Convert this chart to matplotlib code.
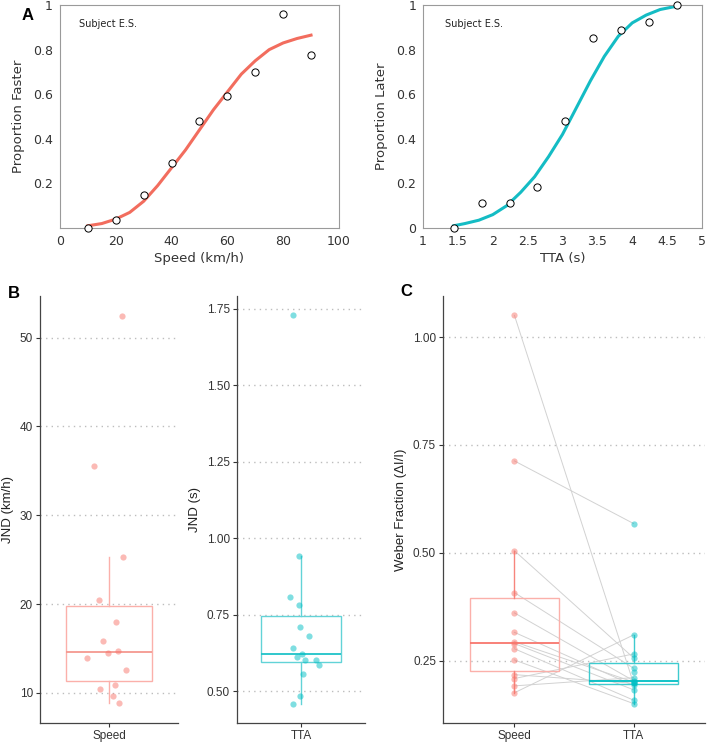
import matplotlib.pyplot as plt
from matplotlib.ticker import FormatStrFormatter

# --- Panel A data (subject E.S.) ---
speed_levels = [10, 20, 30, 40, 50, 60, 70, 80, 90]
prop_faster = [0.0, 0.036, 0.147, 0.293, 0.48, 0.59, 0.70, 0.961, 0.775]
speed_fit_x = [10, 15, 20, 25, 30, 35, 40, 45, 50, 55, 60, 65, 70, 75, 80, 85, 90]
speed_fit_y = [0.01, 0.02, 0.04, 0.07, 0.12, 0.19, 0.27, 0.35, 0.44, 0.53, 0.61, 0.69,
               0.75, 0.80, 0.83, 0.85, 0.865]

tta_levels = [1.44, 1.84, 2.24, 2.64, 3.04, 3.44, 3.84, 4.24, 4.64]
prop_later = [0.0, 0.11, 0.11, 0.184, 0.48, 0.85, 0.888, 0.924, 0.999]
tta_fit_x = [1.44, 1.6, 1.8, 2.0, 2.2, 2.4, 2.6, 2.8, 3.0, 3.2, 3.4, 3.6, 3.8, 4.0, 4.2, 4.4, 4.64]
tta_fit_y = [0.01, 0.02, 0.035, 0.06, 0.10, 0.16, 0.23, 0.32, 0.42, 0.54, 0.66, 0.77,
             0.86, 0.92, 0.955, 0.98, 0.995]

# --- Panel B data (JND per subject) ---
jnd_speed = [52.5, 35.6, 25.26, 20.4, 18.0, 15.8, 14.5, 14.7, 13.9, 12.6, 10.9, 10.45, 9.6, 8.8]
jnd_tta = [1.728, 0.943, 0.809, 0.781, 0.708, 0.679, 0.640, 0.620, 0.610, 0.603, 0.602,
           0.586, 0.556, 0.483, 0.459]

# --- Panel C data (Weber fractions, paired by subject) ---
weber_speed = [1.05, 0.713, 0.505, 0.408, 0.361, 0.316, 0.294, 0.290, 0.278, 0.252,
               0.218, 0.209, 0.192, 0.176]
weber_tta_paired = [0.198, 0.568, 0.257, 0.233, 0.204, 0.193, 0.201, 0.183, 0.159, 0.151,
                    0.198, 0.266, 0.211, 0.310]
weber_tta = [0.568, 0.310, 0.266, 0.257, 0.233, 0.223, 0.211, 0.204, 0.201, 0.198, 0.198,
             0.193, 0.183, 0.159, 0.151]

# jitter used for the points in panel B
jit_speed = [0.116, -0.133, 0.122, -0.09, 0.058, -0.049, -0.009, 0.075, -0.188, 0.148,
             0.052, -0.081, 0.035, 0.084]
jit_tta = [-0.078, -0.019, -0.1, -0.016, -0.009, 0.078, -0.072, 0.006, -0.034, 0.041,
           0.138, 0.172, 0.022, -0.009, -0.078]

red = '#F8766D'
teal = '#00BFC4'
light_red = '#FBB0AA'
light_teal = '#62D3D7'

fig = plt.figure(figsize=(7.08, 7.42), dpi=100)

# ---------------- Panel A ----------------
def style_a(ax):
    for s in ax.spines.values():
        s.set_color('#9a9a9a')
        s.set_linewidth(0.8)
    ax.tick_params(length=0, pad=5, labelsize=9, colors='#333333')
    ax.yaxis.set_major_formatter(FormatStrFormatter('%g'))
    ax.xaxis.set_major_formatter(FormatStrFormatter('%g'))

ax1 = fig.add_axes([0.0847, 0.6927, 0.394, 0.3005])
ax1.plot(speed_fit_x, speed_fit_y, color='#F26D5E', lw=2.2)
ax1.plot(speed_levels, prop_faster, 'o', mfc='white', mec='black', ms=5.2, mew=0.7,
         clip_on=False, zorder=3)
ax1.set_xlim(0, 100)
ax1.set_ylim(0, 1)
ax1.set_xticks([0, 20, 40, 60, 80, 100])
ax1.set_yticks([0.2, 0.4, 0.6, 0.8, 1])
ax1.set_xlabel('Speed (km/h)', fontsize=9.5, color='#333333', labelpad=3)
ax1.set_ylabel('Proportion Faster', fontsize=9.5, color='#333333', labelpad=6)
ax1.text(0.07, 0.9, 'Subject E.S.', transform=ax1.transAxes, fontsize=7, color='#222222')
style_a(ax1)

ax2 = fig.add_axes([0.5975, 0.6927, 0.394, 0.3005])
ax2.plot(tta_fit_x, tta_fit_y, color='#14BCC4', lw=2.2)
ax2.plot(tta_levels, prop_later, 'o', mfc='white', mec='black', ms=5.2, mew=0.7,
         clip_on=False, zorder=3)
ax2.set_xlim(1, 5)
ax2.set_ylim(0, 1)
ax2.set_xticks([1, 1.5, 2, 2.5, 3, 3.5, 4, 4.5, 5])
ax2.set_yticks([0, 0.2, 0.4, 0.6, 0.8, 1])
ax2.set_xlabel('TTA (s)', fontsize=9.5, color='#333333', labelpad=3)
ax2.set_ylabel('Proportion Later', fontsize=9.5, color='#333333', labelpad=6)
ax2.text(0.08, 0.9, 'Subject E.S.', transform=ax2.transAxes, fontsize=7, color='#222222')
style_a(ax2)

# ---------------- Panels B and C ----------------
def style_gg(ax, yticks, fmt=None):
    for s in ['top', 'right']:
        ax.spines[s].set_visible(False)
    for s in ['left', 'bottom']:
        ax.spines[s].set_color('#444444')
        ax.spines[s].set_linewidth(0.9)
    ax.tick_params(length=3, width=0.8, color='#333333', labelsize=8.5, labelcolor='#333333',
                   pad=2)
    ax.set_yticks(yticks)
    if fmt:
        ax.yaxis.set_major_formatter(FormatStrFormatter(fmt))
    for t in ax.get_xticklabels() + ax.get_yticklabels():
        t.set_fontfamily('Liberation Sans')
    for y in yticks:
        ax.axhline(y, color='#BDBDBD', lw=1.0, ls=(0, (1, 3)), zorder=0)


def gg_box(ax, data, pos, edge, median_col, whisk_col, lw=1.0):
    ax.boxplot([data], positions=[pos], widths=0.75, showfliers=False, patch_artist=True,
               boxprops=dict(facecolor='none', edgecolor=edge, linewidth=lw),
               medianprops=dict(color=median_col, linewidth=1.3),
               whiskerprops=dict(color=whisk_col, linewidth=lw),
               capprops=dict(linewidth=0), manage_ticks=False, zorder=2)


lab_kw = dict(fontsize=9.5, family='Liberation Sans', color='#222222', labelpad=4)

axb1 = fig.add_axes([0.0565, 0.0256, 0.195, 0.5755])
gg_box(axb1, jnd_speed, 1, light_red, '#F59890', light_red)
axb1.scatter([1 + j for j in jit_speed], jnd_speed, s=20, color=red, alpha=0.5, lw=0, zorder=3)
axb1.set_xlim(0.4, 1.6)
axb1.set_ylim(6.6, 54.7)
axb1.set_xticks([1])
axb1.set_xticklabels(['Speed'])
style_gg(axb1, [10, 20, 30, 40, 50])
axb1.set_ylabel('JND (km/h)', **lab_kw)

axb2 = fig.add_axes([0.3347, 0.0256, 0.1808, 0.5755])
gg_box(axb2, jnd_tta, 1, light_teal, '#1FC3C8', light_teal)
axb2.scatter([1 + j for j in jit_tta], jnd_tta, s=20, color=teal, alpha=0.5, lw=0, zorder=3)
axb2.set_xlim(0.4, 1.6)
axb2.set_ylim(0.396, 1.791)
axb2.set_xticks([1])
axb2.set_xticklabels(['TTA'])
style_gg(axb2, [0.5, 0.75, 1.0, 1.25, 1.5, 1.75], '%.2f')
axb2.set_ylabel('JND (s)', **lab_kw)

axc = fig.add_axes([0.6257, 0.0256, 0.370, 0.5755])
for a, b in zip(weber_speed, weber_tta_paired):
    axc.plot([1, 2], [a, b], color='#D2D2D2', lw=0.7, zorder=1)
gg_box(axc, weber_speed, 1, light_red, red, '#F7857D')
gg_box(axc, weber_tta, 2, '#3FCBCF', teal, '#3FCBCF')
axc.scatter([1] * len(weber_speed), weber_speed, s=20, color=red, alpha=0.5, lw=0, zorder=3)
axc.scatter([2] * len(weber_tta), weber_tta, s=20, color=teal, alpha=0.5, lw=0, zorder=3)
axc.set_xlim(0.4, 2.6)
axc.set_ylim(0.106, 1.095)
axc.set_xticks([1, 2])
axc.set_xticklabels(['Speed', 'TTA'])
style_gg(axc, [0.25, 0.5, 0.75, 1.0], '%.2f')
axc.set_ylabel('Weber Fraction (\u0394I/I)', **lab_kw)

# panel letters
fig.text(22 / 708, 1 - 15 / 742, 'A', fontsize=12, fontweight='bold', va='center', ha='left',
         family='Liberation Sans')
fig.text(8 / 708, 1 - 293 / 742, 'B', fontsize=12, fontweight='bold', va='center', ha='left',
         family='Liberation Sans')
fig.text(400 / 708, 1 - 291 / 742, 'C', fontsize=12, fontweight='bold', va='center', ha='left',
         family='Liberation Sans')

fig.savefig('out.png', dpi=100)
